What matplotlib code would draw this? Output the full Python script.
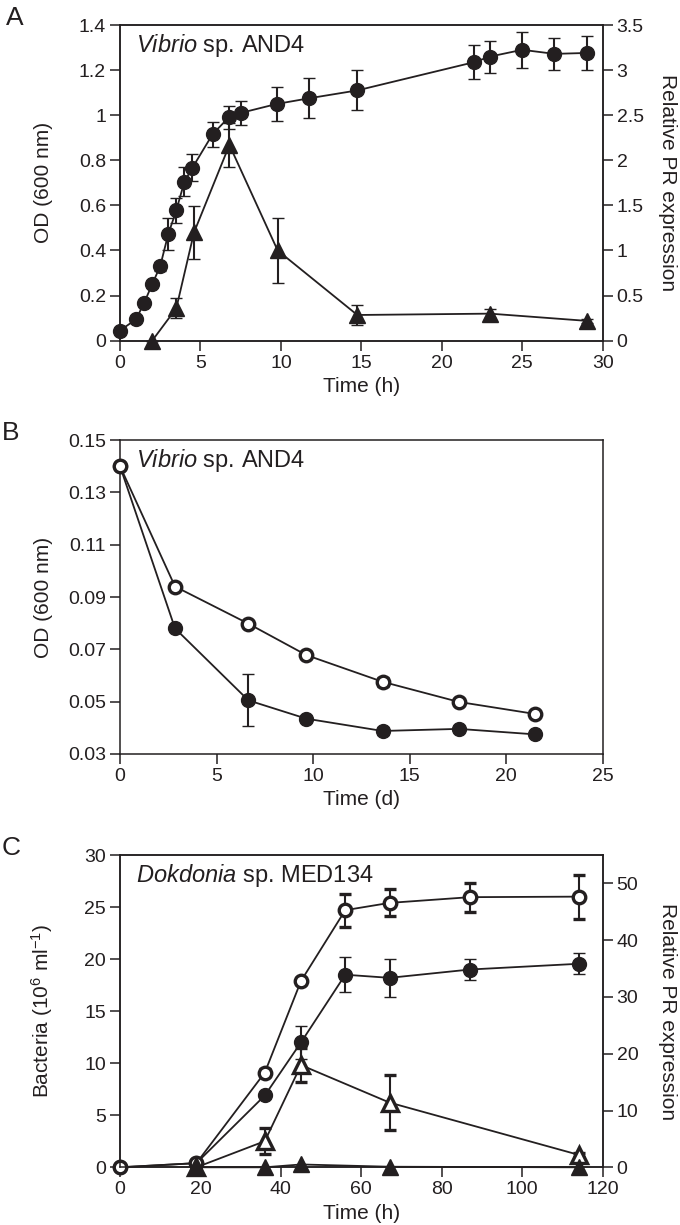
import matplotlib
matplotlib.use('Agg')
import matplotlib.pyplot as plt

plt.rcParams['font.family'] = ['Liberation Sans', 'DejaVu Sans']
plt.rcParams['mathtext.fontset'] = 'custom'
plt.rcParams['mathtext.rm'] = 'Liberation Sans'
plt.rcParams['mathtext.it'] = 'Liberation Sans:italic'

INK = '#231f20'

# ---------------- Panel A data ----------------
a_time_od = [0, 1, 1.5, 2, 2.5, 3, 3.5, 4, 4.5, 5.75, 6.75, 7.5, 9.75, 11.75, 14.75, 22, 23, 25, 27, 29]
a_od = [0.045, 0.095, 0.168, 0.25, 0.331, 0.473, 0.578, 0.705, 0.767, 0.915, 0.99, 1.01, 1.05, 1.075, 1.11, 1.235, 1.26, 1.29, 1.272, 1.276]
a_od_err = [0, 0, 0, 0, 0.02, 0.07, 0.057, 0.065, 0.06, 0.055, 0.05, 0.052, 0.075, 0.089, 0.089, 0.075, 0.071, 0.08, 0.072, 0.076]
a_time_pr = [2, 3.5, 4.6, 6.8, 9.8, 14.75, 23, 29]
a_pr = [0.0, 0.36, 1.2, 2.17, 1.0, 0.285, 0.3, 0.22]
a_pr_err = [0, 0.11, 0.29, 0.24, 0.36, 0.11, 0.05, 0.02]
a_xticks = [0, 5, 10, 15, 20, 25, 30]
a_yticks = [0, 0.2, 0.4, 0.6, 0.8, 1.0, 1.2, 1.4]
a_yticklabels = ['0', '0.2', '0.4', '0.6', '0.8', '1', '1.2', '1.4']
a_y2ticks = [0, 0.5, 1, 1.5, 2, 2.5, 3, 3.5]
a_y2ticklabels = ['0', '0.5', '1', '1.5', '2', '2.5', '3', '3.5']

# ---------------- Panel B data ----------------
b_time = [0, 2.85, 6.65, 9.65, 13.6, 17.55, 21.5]
b_filled = [0.14, 0.078, 0.0505, 0.0435, 0.0388, 0.0396, 0.0375]
b_filled_err = [0, 0.001, 0.0099, 0.0008, 0.0015, 0, 0]
b_open = [0.14, 0.094, 0.0798, 0.0678, 0.0576, 0.0499, 0.0453]
b_open_err = [0, 0.0008, 0.0005, 0.0012, 0.0015, 0.0005, 0.0005]
b_xticks = [0, 5, 10, 15, 20, 25]
b_yticks = [0.03, 0.05, 0.07, 0.09, 0.11, 0.13, 0.15]
b_yticklabels = ['0.03', '0.05', '0.07', '0.09', '0.11', '0.13', '0.15']

# ---------------- Panel C data ----------------
c_time = [0, 19, 36, 45, 56, 67, 87, 114]
c_open = [0, 0.4, 9.1, 17.9, 24.7, 25.4, 25.95, 26.0]
c_open_err = [0, 0, 0.3, 0.3, 1.6, 1.3, 1.4, 2.1]
c_filled = [0, 0.4, 6.9, 12.0, 18.5, 18.2, 19.0, 19.55]
c_filled_err = [0, 0, 0, 1.6, 1.7, 1.8, 1.0, 1.0]
c_time_pr = [19, 36, 45, 67, 114]
c_pr_open = [0, 4.6, 18.0, 11.4, 2.2]
c_pr_open_err = [0, 2.3, 3.0, 4.9, 0.4]
c_pr_filled = [0, 0, 0.5, 0.1, 0]
c_xticks = [0, 20, 40, 60, 80, 100, 120]
c_yticks = [0, 5, 10, 15, 20, 25, 30]
c_y2ticks = [0, 10, 20, 30, 40, 50]

FS_TICK = 14
FS_LABEL = 15
FS_TITLE = 17
FS_PANEL = 19
MS = 10
MS_TRI = 11.5
LW = 1.3

fig = plt.figure(figsize=(6.8, 12.25), dpi=100)

W = 680.0
H = 1225.0
def rect(x0, y0, x1, y1):
    return [x0 / W, 1 - y1 / H, (x1 - x0) / W, (y1 - y0) / H]

def style(ax, right=False):
    for s in ax.spines.values():
        s.set_linewidth(1.1)
        s.set_color(INK)
    ax.tick_params(direction='out', length=7, width=1.1, color=INK,
                   labelsize=FS_TICK, pad=3, labelcolor=INK)
    if not right:
        ax.tick_params(top=False, right=False)

err_kw = dict(color=INK, ecolor=INK, elinewidth=1.5, capsize=4.5, capthick=1.5, lw=LW)

def filled(ax, x, y, yerr=None, marker='o', ms=MS, z=3):
    c = ax.errorbar(x, y, yerr=yerr, fmt='-' + marker, mfc=INK, mec=INK, ms=ms,
                    markeredgewidth=1.0, zorder=z, **err_kw)
    for art in c.get_children():
        art.set_clip_on(False)

def hollow(ax, x, y, yerr=None, marker='o', ms=MS - 1, z=4):
    c = ax.errorbar(x, y, yerr=yerr, fmt='-' + marker, mfc='white', mec=INK, ms=ms,
                    markeredgewidth=2.4, zorder=z, **err_kw)
    for art in c.get_children():
        art.set_clip_on(False)

# ---------------- Panel A ----------------
axA = fig.add_axes(rect(120, 25, 602.7, 340.7))
filled(axA, a_time_od, a_od, a_od_err)
axA.set_xlim(0, 30)
axA.set_ylim(0, 1.4)
axA.set_xticks(a_xticks)
axA.set_yticks(a_yticks)
axA.set_yticklabels(a_yticklabels)
axA.set_xlabel('Time (h)', fontsize=FS_LABEL, color=INK, labelpad=4)
axA.set_ylabel('OD (600 nm)', fontsize=FS_LABEL, color=INK)
axA.yaxis.set_label_coords(-0.1396, 0.5)
style(axA)
axA2 = axA.twinx()
filled(axA2, a_time_pr, a_pr, a_pr_err, marker='^', ms=MS_TRI)
axA2.set_ylim(0, 3.5)
axA2.set_yticks(a_y2ticks)
axA2.set_yticklabels(a_y2ticklabels)
axA2.set_ylabel('Relative PR expression', fontsize=FS_LABEL, color=INK, rotation=270)
axA2.yaxis.set_label_coords(1.154, 0.5)
style(axA2, right=True)
axA.text(0.033, 0.915, r'$\mathit{Vibrio}$ sp. AND4', transform=axA.transAxes,
         fontsize=FS_TITLE, color=INK, va='baseline', ha='left')
fig.text(6 / W, 1 - 25 / H, 'A', fontsize=FS_PANEL, color=INK, va='baseline', ha='left')

# ---------------- Panel B ----------------
axB = fig.add_axes(rect(120, 440, 602.7, 754))
filled(axB, b_time, b_filled, b_filled_err)
hollow(axB, b_time, b_open, b_open_err)
axB.set_xlim(0, 25)
axB.set_ylim(0.03, 0.15)
axB.set_xticks(b_xticks)
axB.set_yticks(b_yticks)
axB.set_yticklabels(b_yticklabels)
axB.set_xlabel('Time (d)', fontsize=FS_LABEL, color=INK, labelpad=4)
axB.set_ylabel('OD (600 nm)', fontsize=FS_LABEL, color=INK)
axB.yaxis.set_label_coords(-0.1396, 0.5)
style(axB)
axB.text(0.033, 0.915, r'$\mathit{Vibrio}$ sp. AND4', transform=axB.transAxes,
         fontsize=FS_TITLE, color=INK, va='baseline', ha='left')
fig.text(2 / W, 1 - 440 / H, 'B', fontsize=FS_PANEL, color=INK, va='baseline', ha='left')

# ---------------- Panel C ----------------
axC = fig.add_axes(rect(120, 855, 602.7, 1167.3))
hollow(axC, c_time, c_open, c_open_err)
filled(axC, c_time, c_filled, c_filled_err)
axC.set_xlim(0, 120)
axC.set_ylim(0, 30)
axC.set_xticks(c_xticks)
axC.set_yticks(c_yticks)
axC.set_xlabel('Time (h)', fontsize=FS_LABEL, color=INK, labelpad=4)
axC.set_ylabel(r'Bacteria (10$^{6}$ ml$^{\mathrm{-1}}$)', fontsize=FS_LABEL, color=INK)
axC.yaxis.set_label_coords(-0.1355, 0.5)
style(axC)
axC2 = axC.twinx()
hollow(axC2, c_time_pr, c_pr_open, c_pr_open_err, marker='^', ms=MS_TRI - 0.5, z=3)
filled(axC2, c_time_pr, c_pr_filled, marker='^', ms=MS_TRI, z=5)
axC2.set_ylim(0, 55)
axC2.set_yticks(c_y2ticks)
axC2.set_ylabel('Relative PR expression', fontsize=FS_LABEL, color=INK, rotation=270)
axC2.yaxis.set_label_coords(1.154, 0.5)
style(axC2, right=True)
axC.text(0.033, 0.915, r'$\mathit{Dokdonia}$ sp. MED134', transform=axC.transAxes,
         fontsize=FS_TITLE, color=INK, va='baseline', ha='left')
fig.text(2 / W, 1 - 855 / H, 'C', fontsize=FS_PANEL, color=INK, va='baseline', ha='left')

fig.savefig('out.png', dpi=100)
